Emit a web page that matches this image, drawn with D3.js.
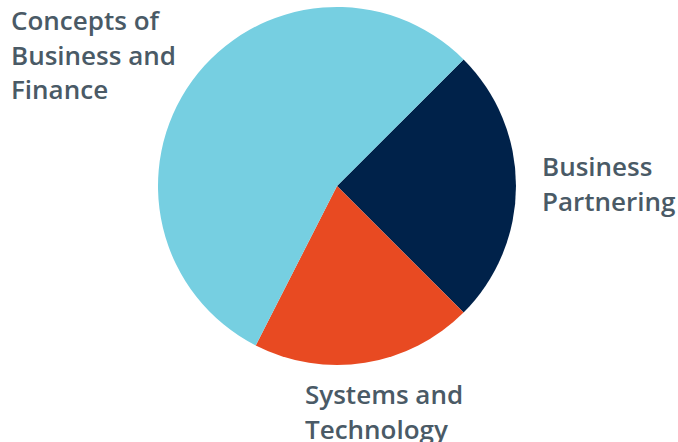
<html>
<head>
<script src="https://cdn.jsdelivr.net/npm/d3@7"></script>
<style>
    body { margin: 0; background: #fff; }
    .label { font-family: 'Open Sans', sans-serif; font-size: 26px; font-weight: 600; fill: #4a5a66; }
</style>
</head>
<body>
<svg id='chart' width=678 height=442></svg>
<script>

    var categories = ['Business Partnering', 'Systems and Technology', 'Concepts of Business and Finance'];
    var values = [25, 20, 55];
    var colors = ['#00224a', '#e84a22', '#76cfe1'];

    // label lines and anchor (baseline of first line)
    var labelLines = [
        ['Business', 'Partnering'],
        ['Systems and', 'Technology'],
        ['Concepts of', 'Business and', 'Finance']
    ];
    var labelPos = [[542, 176], [305, 404], [11, 30]];

    var svg = d3.select('#chart');
    var cx = 337, cy = 186, r = 179;

    var pie = d3.pie()
        .sort(null)
        .startAngle(Math.PI / 4)
        .endAngle(Math.PI / 4 + 2 * Math.PI);

    var arc = d3.arc().innerRadius(0).outerRadius(r);

    var g = svg.append('g').attr('transform', 'translate(' + cx + ',' + cy + ')');

    g.selectAll('path')
        .data(pie(values))
      .enter()
        .append('path')
        .attr('d', arc)
        .attr('fill', function(d, i) { return colors[i]; });

    var labels = svg.selectAll('.label')
        .data(categories)
      .enter()
        .append('text')
        .attr('class', 'label')
        .attr('x', function(d, i) { return labelPos[i][0]; })
        .attr('y', function(d, i) { return labelPos[i][1]; });

    labels.each(function(d, i) {
        d3.select(this).selectAll('tspan')
            .data(labelLines[i])
          .enter()
            .append('tspan')
            .attr('x', labelPos[i][0])
            .attr('dy', function(t, j) { return j === 0 ? 0 : 34.5; })
            .text(function(t) { return t; });
    });

</script>
</body>
</html>
